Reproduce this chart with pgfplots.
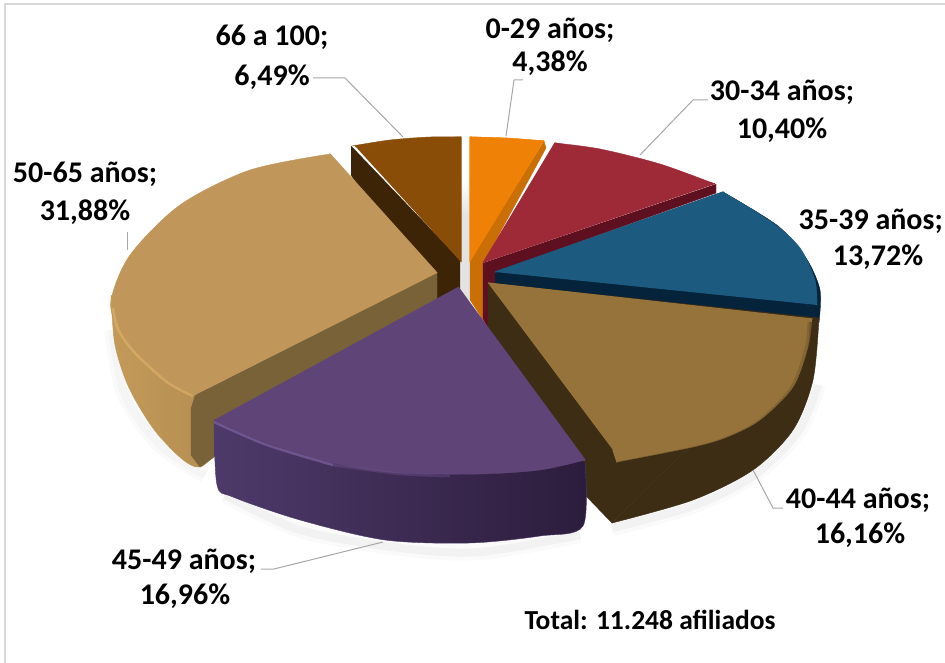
\documentclass[border=0pt]{standalone}
\usepackage{fontspec}
\setmainfont{Carlito}
\usepackage{pgfplots}
\pgfplotsset{compat=1.18}
\definecolor{frameC}{HTML}{D9D9D9}
\definecolor{lead}{HTML}{A6A6A6}
\definecolor{brT}{HTML}{8A4D08}\definecolor{brW}{HTML}{3E2407}
\definecolor{orT}{HTML}{EF8106}\definecolor{orW}{HTML}{C96F06}
\definecolor{reT}{HTML}{9E2A38}\definecolor{reW}{HTML}{5F1020}
\definecolor{blT}{HTML}{1C5A80}\definecolor{blW}{HTML}{05233B}
\definecolor{gdT}{HTML}{95733B}\definecolor{gdW}{HTML}{3D2D15}
\definecolor{puT}{HTML}{5F4477}\definecolor{puL}{HTML}{7F62A0}
\definecolor{puA}{HTML}{4E3A6A}\definecolor{puB}{HTML}{2C1C3C}
\definecolor{taT}{HTML}{C0965A}\definecolor{taL}{HTML}{DDAF68}
\definecolor{taA}{HTML}{C39A58}\definecolor{taB}{HTML}{B08A50}\definecolor{taI}{HTML}{7A6238}
\newcommand{\slice}[3]{%
  \addplot[smooth,fill=#1,draw=#1,line width=.4pt] coordinates {#3};
  \addplot[fill=#1,draw=#1,line width=1.2pt,line join=round] coordinates {#2};}
\newcommand{\lab}[3]{\node[inner sep=0pt,text=black,font=\fontsize{30}{32}\selectfont\bfseries] at (axis cs:#1,#2) {#3};}
\begin{document}
\begin{tikzpicture}
\path[use as bounding box,clip] (0,0) rectangle (945pt,663pt);
\begin{axis}[at={(0,0)},anchor=south west,scale only axis,width=945pt,height=663pt,
  xmin=0,xmax=945,ymin=0,ymax=663,y dir=reverse,hide axis,clip=false,no markers]
% frame
\addplot[draw=frameC,line width=1.6pt] coordinates {(5,670) (5,4) (950,4)};
% soft shadows
\addplot[smooth,draw=black!2,line width=16pt] coordinates {(112,330) (125,395) (160,445) (205,475)};
\addplot[smooth,draw=black!4,line width=8pt] coordinates {(112,330) (125,395) (160,445) (205,475)};
\addplot[smooth,draw=black!2,line width=16pt] coordinates {(225,495) (300,530) (400,548) (480,552) (580,535)};
\addplot[smooth,draw=black!5,line width=8pt] coordinates {(225,495) (300,530) (400,548) (480,552) (580,535)};
\addplot[smooth,draw=black!2,line width=16pt] coordinates {(612,528) (693,506) (753,476) (798,432) (818,385)};
\addplot[smooth,draw=black!5,line width=8pt] coordinates {(612,528) (693,506) (753,476) (798,432) (818,385)};
\addplot[top color=white,bottom color=black!11,draw=none] coordinates {(461,180) (470,180) (470,215) (461,215)};
\addplot[fill=black!11,draw=none] coordinates {(461,215) (470,215) (470,300) (461,300)};
% 66 a 100
\addplot[fill=brW,draw=brW,line width=.4pt] coordinates {(351,146) (460,260) (460,298) (438,300) (351,175)};
\slice{brT}{(461,262) (461,137) (355,146)}{(352,146) (390,140) (430,137) (461,137)}
% 0-29
\addplot[fill=orW,draw=orW,line width=.4pt] coordinates {(544,141) (546,148) (484,262) (484,322) (478,312) (470,300) (470,260)};
\slice{orT}{(470,262) (470,137) (544,141)}{(470,137) (508,138) (544,141)}
% 30-34
\addplot[fill=reW,draw=reW,line width=.4pt] coordinates {(716,184) (716,193) (495,272) (495,290) (488,330) (483,318) (483,263)};
\slice{reT}{(483,263) (555,143) (715,184)}{(555,143) (600,149) (660,164) (715,184)}
% 35-39
\addplot[smooth,fill=blW,draw=blW,line width=.4pt] coordinates {(723,192) (778,226) (806,258) (820,290) (819,322)};
\addplot[fill=blW,draw=blW,line width=.4pt] coordinates {(495,272) (723,192) (819,322) (810,318) (495,285)};
\slice{blT}{(495,272) (723,192) (817,305)}{(723,192) (773,223) (800,248) (815,280) (817,305)}
% 40-44
\addplot[smooth,fill=gdW,draw=gdW,line width=.4pt] coordinates {(819,318) (813,380) (793,430) (753,470) (693,500) (612,523)};
\addplot[fill=gdW,draw=gdW,line width=.4pt] coordinates {(488,283) (819,318) (612,523) (585,495) (488,335)};
\slice{gdT}{(488,283) (812,319) (617,462) (613,450)}{(812,319) (808,347) (793,387) (760,420) (727,437) (693,447) (617,462)}
\addplot[smooth,draw=gdW,opacity=.2,line width=7pt] coordinates {(811,322) (808,349) (793,389) (760,423) (727,440) (693,450) (618,465)};
\addplot[smooth,draw=gdW,opacity=.25,line width=3.5pt] coordinates {(811,322) (809,351) (794,391) (761,425) (727,442) (693,452) (618,467)};
% 50-65
\addplot[smooth,left color=taA,right color=taB,draw=taA,line width=.4pt] coordinates {(111,295) (115,345) (130,390) (160,437) (200,467) (240,420)};
\addplot[fill=taI,draw=taI,line width=.4pt] coordinates {(195,395) (437,273) (437,300) (200,467) (191,455) (191,408)};
\slice{taT}{(437,273) (330,154) (195,395)}{(330,154) (250,170) (180,205) (130,255) (111,300) (117,327) (133,350) (167,380) (195,395)}
\addplot[smooth,draw=taL,opacity=.7,line width=2.5pt] coordinates {(113,308) (118,329) (134,352) (167,382) (193,396)};
% 45-49
\addplot[smooth,left color=puA,right color=puB,draw=puA,line width=.4pt] coordinates {(214,420) (217,485) (233,497) (300,520) (385,540) (470,543) (540,536) (583,526) (585,462)};
\slice{puT}{(458,287) (585,460) (214,420)}{(214,420) (267,443) (333,463) (400,473) (480,474) (540,470) (585,460)}
\addplot[smooth,draw=puL,opacity=.7,line width=2.5pt] coordinates {(214,422) (267,445) (333,465)};
\addplot[smooth,draw=puL,opacity=.3,line width=2.5pt] coordinates {(333,465) (400,474) (450,476)};
% leader lines
\addplot[draw=lead,line width=1pt] coordinates {(313,78) (345,78) (403,137)};
\addplot[draw=lead,line width=1pt] coordinates {(506,136) (514,80) (523,80)};
\addplot[draw=lead,line width=1pt] coordinates {(640,155) (693,100) (708,100)};
\addplot[draw=lead,line width=1pt] coordinates {(753,470) (773,508) (783,508)};
\addplot[draw=lead,line width=1pt] coordinates {(383,542) (274,569) (261,569)};
\addplot[draw=lead,line width=1pt] coordinates {(127,250) (127,232)};
% labels
\lab{272}{37}{66 a 100;}\lab{272}{77}{6,49\%}
\lab{550}{30}{0-29 años;}\lab{550}{63}{4,38\%}
\lab{782}{92}{30-34 años;}\lab{782}{130}{10,40\%}
\node[anchor=east,inner sep=0pt,text=black,font=\fontsize{30}{32}\selectfont\bfseries] at (axis cs:943,221) {35-39 años;};
\lab{878}{257}{13,72\%}
\lab{858}{500}{40-44 años;}\lab{860}{535}{16,16\%}
\lab{184}{561}{45-49 años;}\lab{185}{596}{16,96\%}
\lab{85}{174}{50-65 años;}\lab{85}{212}{31,88\%}
\node[inner sep=0pt,text=black,font=\fontsize{27.5}{30}\selectfont\bfseries] at (axis cs:650,620) {Total: 11.248 afiliados};
\end{axis}
\end{tikzpicture}
\end{document}
